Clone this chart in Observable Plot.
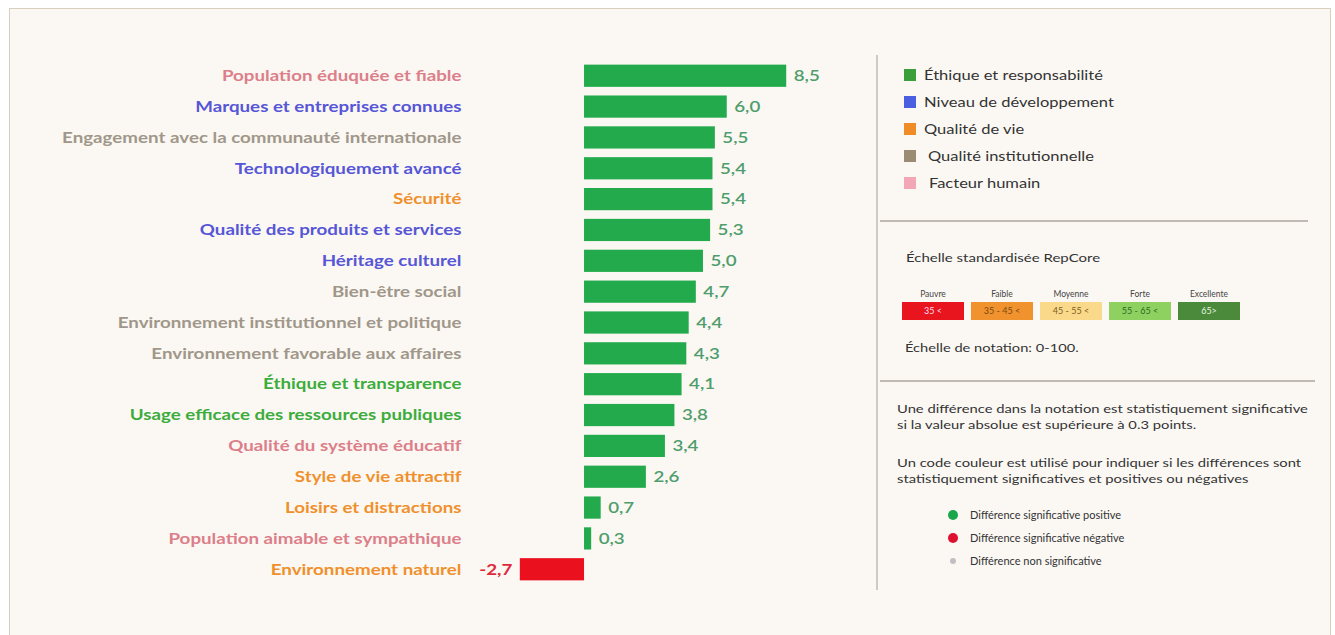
<!DOCTYPE html>
<html>
<head>
<meta charset="utf-8">
<script src="https://cdn.jsdelivr.net/npm/d3@7"></script>
<script src="https://cdn.jsdelivr.net/npm/@observablehq/plot@0.6"></script>
<style>
  html, body { margin: 0; padding: 0; background: #ffffff; }
  body { width: 1335px; height: 635px; position: relative; overflow: hidden; font-family: Lato, "Open Sans", sans-serif; }
  #frame { position: absolute; left: 9px; top: 8px; width: 1322px; height: 640px; border: 1.5px solid #d8cfbf; background: #fbf8f3; box-sizing: border-box; }
  #chart { position: absolute; left: 0; top: 0; }
  .abs { position: absolute; }
  .txt { color: #333; font-size: 12px; white-space: nowrap; transform-origin: 0 50%; }
  .sq { position: absolute; width: 12px; height: 12px; }
  .box { position: absolute; height: 18px; width: 62px; font-size: 9px; text-align: center; line-height: 18px; }
  .boxlab { position: absolute; width: 62px; font-size: 8.5px; text-align: center; color: #444; }
  .dot { position: absolute; border-radius: 50%; }
</style>
</head>
<body>
<div id="frame"></div>
<div id="chart"></div>
<div id="side"></div>
<script>
// ---- data ----
const names = [
  "Population éduquée et fiable",
  "Marques et entreprises connues",
  "Engagement avec la communauté internationale",
  "Technologiquement avancé",
  "Sécurité",
  "Qualité des produits et services",
  "Héritage culturel",
  "Bien-être social",
  "Environnement institutionnel et politique",
  "Environnement favorable aux affaires",
  "Éthique et transparence",
  "Usage efficace des ressources publiques",
  "Qualité du système éducatif",
  "Style de vie attractif",
  "Loisirs et distractions",
  "Population aimable et sympathique",
  "Environnement naturel"
];
const values = [8.5, 6.0, 5.5, 5.4, 5.4, 5.3, 5.0, 4.7, 4.4, 4.3, 4.1, 3.8, 3.4, 2.6, 0.7, 0.3, -2.7];
const groups = [
  "Facteur humain", "Niveau de développement", "Qualité institutionnelle",
  "Niveau de développement", "Qualité de vie", "Niveau de développement",
  "Niveau de développement", "Qualité institutionnelle", "Qualité institutionnelle",
  "Qualité institutionnelle", "Éthique et responsabilité", "Éthique et responsabilité",
  "Facteur humain", "Qualité de vie", "Qualité de vie", "Facteur humain", "Qualité de vie"
];
const legendGroups = ["Éthique et responsabilité", "Niveau de développement", "Qualité de vie", "Qualité institutionnelle", "Facteur humain"];
const legendColors = ["#3a9e3a", "#4a5ee0", "#f08c28", "#9a8c74", "#f2a6b6"];
const labelColors = ["#3cac3c", "#5656d6", "#f0902c", "#a0978a", "#dc7f8a"];
const scaleNames = ["Pauvre", "Faible", "Moyenne", "Forte", "Excellente"];
const scaleRanges = ["35 <", "35 - 45 <", "45 - 55 <", "55 - 65 <", "65>"];
const scaleColors = ["#e8141e", "#f0922e", "#fad98a", "#8fd160", "#4a8a3a"];
const scaleText = ["#fde", "#7a4a10", "#7a6020", "#2e6a20", "#e8f5e0"];
const sigLabels = ["Différence significative positive", "Différence significative négative", "Différence non significative"];
const sigColors = ["#1aa64a", "#e01030", "#c0c0c0"];

// ---- chart ----
const data = names.map((n, i) => ({name: n, value: values[i], group: groups[i]}));
const labelColorOf = Object.fromEntries(legendGroups.map((g, i) => [g, labelColors[i]]));
const fmt = v => v.toFixed(1).replace(".", ",");

const chart = Plot.plot({
  width: 880,
  height: 599,
  marginLeft: 477,
  marginRight: 70,
  marginTop: 56,
  marginBottom: 10,
  style: {background: "transparent", fontFamily: "Lato, sans-serif"},
  x: {domain: [-4.5, 9.5], axis: null},
  y: {domain: names, axis: null, padding: 0.28, round: false},
  color: {type: "identity"},
  marks: [
    Plot.barX(data, {x: "value", y: "name", fill: d => d.value >= 0 ? "#22aa4c" : "#ea101e"}),
    Plot.text(data, {y: "name", text: "name", frameAnchor: "left", dx: -16, textAnchor: "end",
      fill: d => labelColorOf[d.group], fontSize: 15, fontWeight: "bold", className: "wide"}),
    Plot.text(data.filter(d => d.value >= 0), {x: "value", y: "name", text: d => fmt(d.value),
      dx: 7, textAnchor: "start", fill: "#4f9d6c", fontSize: 15, fontWeight: 600, className: "wide"}),
    Plot.text(data.filter(d => d.value < 0), {x: "value", y: "name", text: d => fmt(d.value),
      dx: -8, textAnchor: "end", fill: "#e0283a", fontSize: 15, fontWeight: "bold", className: "wide"})
  ]
});
// the reference's lettering is horizontally stretched: widen each label about its anchor
chart.querySelectorAll(".wide text").forEach(t => {
  const tr = t.getAttribute("transform") || "";
  t.setAttribute("transform", tr + " scale(1.25,1)");
});
document.getElementById("chart").appendChild(chart);

// ---- side panel ----
const side = document.getElementById("side");
function add(html) { side.insertAdjacentHTML("beforeend", html); }
add(`<div class="abs" style="left:876px;top:55px;width:1.5px;height:535px;background:#cfcac2"></div>`);
legendGroups.forEach((g, i) => {
  const y = 75 + i * 27;
  add(`<div class="sq" style="left:904px;top:${y - 6}px;background:${legendColors[i]}"></div>`);
  add(`<div class="abs txt" style="left:${i === 3 ? 928 : i === 4 ? 929 : 924}px;top:${y - 8}px;font-size:13px;line-height:16px;transform:scaleX(1.27)">${g}</div>`);
});
add(`<div class="abs" style="left:880px;top:220px;width:428px;height:1.5px;background:#bfbab2"></div>`);
add(`<div class="abs txt" style="left:906px;top:250px;line-height:16px;transform:scaleX(1.25)">Échelle standardisée RepCore</div>`);
scaleNames.forEach((n, i) => {
  const x = 902 + i * 69;
  add(`<div class="boxlab" style="left:${x}px;top:289px">${n}</div>`);
  add(`<div class="box" style="left:${x}px;top:302px;background:${scaleColors[i]};color:${scaleText[i]}">${scaleRanges[i]}</div>`);
});
add(`<div class="abs txt" style="left:905px;top:340px;line-height:16px;transform:scaleX(1.22)">Échelle de notation: 0-100.</div>`);
add(`<div class="abs" style="left:880px;top:380px;width:435px;height:1.5px;background:#bfbab2"></div>`);
add(`<div class="abs txt" style="left:897px;top:401px;line-height:15.5px;transform:scaleX(1.23)">Une différence dans la notation est statistiquement significative<br>si la valeur absolue est supérieure à 0.3 points.</div>`);
add(`<div class="abs txt" style="left:897px;top:455px;line-height:15.5px;transform:scaleX(1.23)">Un code couleur est utilisé pour indiquer si les différences sont<br>statistiquement significatives et positives ou négatives</div>`);
sigLabels.forEach((s, i) => {
  const y = 515 + i * 23;
  const r = i === 2 ? 3 : 5;
  add(`<div class="dot" style="left:${953 - r}px;top:${y - r}px;width:${2 * r}px;height:${2 * r}px;background:${sigColors[i]}"></div>`);
  add(`<div class="abs txt" style="left:970px;top:${y - 7}px;font-size:11px;line-height:14px">${s}</div>`);
});
</script>
</body>
</html>
